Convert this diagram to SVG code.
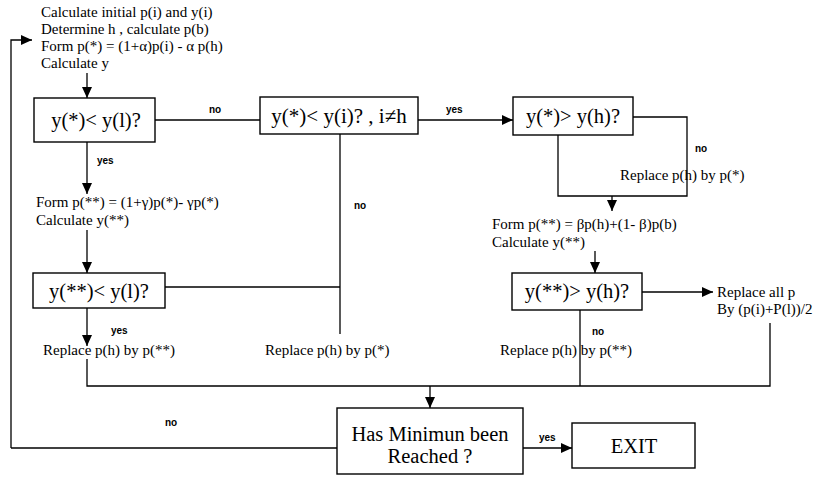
<svg xmlns="http://www.w3.org/2000/svg" width="815" height="477" viewBox="0 0 815 477">
<defs>
<marker id="ah" markerUnits="userSpaceOnUse" markerWidth="12" markerHeight="10" refX="11" refY="5" orient="auto">
<path d="M0,0 L11,5 L0,10 Z" fill="#000"/>
</marker>
<style>
.box{fill:#fff;stroke:#000;stroke-width:1.4}
.ln{fill:none;stroke:#000;stroke-width:1.3}
.arr{fill:none;stroke:#000;stroke-width:1.3;marker-end:url(#ah)}
.t{font-family:"Liberation Serif","Times New Roman",serif;font-size:15px;fill:#000}
.bt{font-family:"Liberation Serif","Times New Roman",serif;font-size:20.5px;fill:#000;text-anchor:middle}
.lb{font-family:"Liberation Sans",Arial,sans-serif;font-size:10px;font-weight:bold;fill:#000}
</style>
</defs>
<rect width="815" height="477" fill="#fff"/>
<g id="connectors">
<polyline class="arr" points="11,448 11,40 32,40"/>
<line class="arr" x1="87" y1="73" x2="87" y2="98"/>
<line class="ln" x1="155" y1="120" x2="260" y2="120"/>
<line class="arr" x1="418" y1="120" x2="513" y2="120"/>
<line class="arr" x1="87" y1="142" x2="87" y2="194"/>
<line class="arr" x1="87" y1="230" x2="87" y2="273"/>
<line class="ln" x1="165" y1="287" x2="340" y2="287"/>
<line class="ln" x1="340" y1="134" x2="340" y2="334"/>
<line class="arr" x1="87" y1="308" x2="87" y2="346"/>
<polyline class="ln" points="87,359 87,386 770,386 770,323"/>
<polyline class="ln" points="633,117 687,117 687,196 558,196 558,135"/>
<line class="arr" x1="612" y1="196" x2="612" y2="211"/>
<line class="arr" x1="595" y1="251" x2="595" y2="273"/>
<line class="arr" x1="642" y1="292" x2="713" y2="292"/>
<line class="ln" x1="580" y1="310" x2="580" y2="386"/>
<line class="arr" x1="430" y1="386" x2="430" y2="408"/>
<line class="ln" x1="337" y1="448" x2="11" y2="448"/>
<line class="arr" x1="523" y1="448" x2="572" y2="448"/>
</g>
<g id="start">
<text class="t" x="41" y="17">Calculate initial p(i) and y(i)</text>
<text class="t" x="41" y="34">Determine h , calculate p(b)</text>
<text class="t" x="41" y="51">Form p(*) = (1+α)p(i) - α p(h)</text>
<text class="t" x="41" y="68">Calculate y</text>
</g>
<g id="box1">
<rect class="box" x="34" y="98" width="121" height="44"/>
<text class="bt" x="96" y="127">y(*)&lt; y(l)?</text>
</g>
<g id="box2">
<rect class="box" x="260" y="97" width="158" height="37"/>
<text class="bt" x="339" y="123" style="font-size:21px">y(*)&lt; y(i)? , i≠h</text>
</g>
<g id="box3">
<rect class="box" x="513" y="97" width="120" height="38"/>
<text class="bt" x="573" y="123">y(*)&gt; y(h)?</text>
</g>
<g id="expand">
<text class="t" x="36" y="207">Form p(**) = (1+γ)p(*)- γp(*)</text>
<text class="t" x="36" y="225">Calculate y(**)</text>
</g>
<g id="box4">
<rect class="box" x="33" y="273" width="132" height="35"/>
<text class="bt" x="99" y="298">y(**)&lt; y(l)?</text>
</g>
<g id="contract">
<text class="t" x="492" y="229">Form p(**) = βp(h)+(1- β)p(b)</text>
<text class="t" x="492" y="247">Calculate y(**)</text>
</g>
<g id="box5">
<rect class="box" x="512" y="273" width="130" height="37"/>
<text class="bt" x="577" y="298">y(**)&gt; y(h)?</text>
</g>
<g id="replace1"><text class="t" x="43" y="355">Replace p(h) by p(**)</text></g>
<g id="replace2"><text class="t" x="265" y="355">Replace p(h) by p(*)</text></g>
<g id="replace3"><text class="t" x="620" y="180">Replace p(h) by p(*)</text></g>
<g id="replace4"><text class="t" x="500" y="355">Replace p(h) by p(**)</text></g>
<g id="shrink">
<text class="t" x="717" y="297">Replace all p</text>
<text class="t" x="717" y="314">By (p(i)+P(l))/2</text>
</g>
<g id="box6">
<rect class="box" x="337" y="408" width="186" height="66"/>
<text class="bt" x="430" y="441">Has Minimun been</text>
<text class="bt" x="430" y="463">Reached ?</text>
</g>
<g id="exit">
<rect class="box" x="572" y="423" width="123" height="45"/>
<text class="bt" x="634" y="453">EXIT</text>
</g>
<g id="labels">
<text class="lb" x="209" y="113">no</text>
<text class="lb" x="446" y="113">yes</text>
<text class="lb" x="97" y="164">yes</text>
<text class="lb" x="354" y="209">no</text>
<text class="lb" x="695" y="152">no</text>
<text class="lb" x="111" y="334">yes</text>
<text class="lb" x="592" y="335">no</text>
<text class="lb" x="165" y="426">no</text>
<text class="lb" x="539" y="441">yes</text>
</g>
</svg>
